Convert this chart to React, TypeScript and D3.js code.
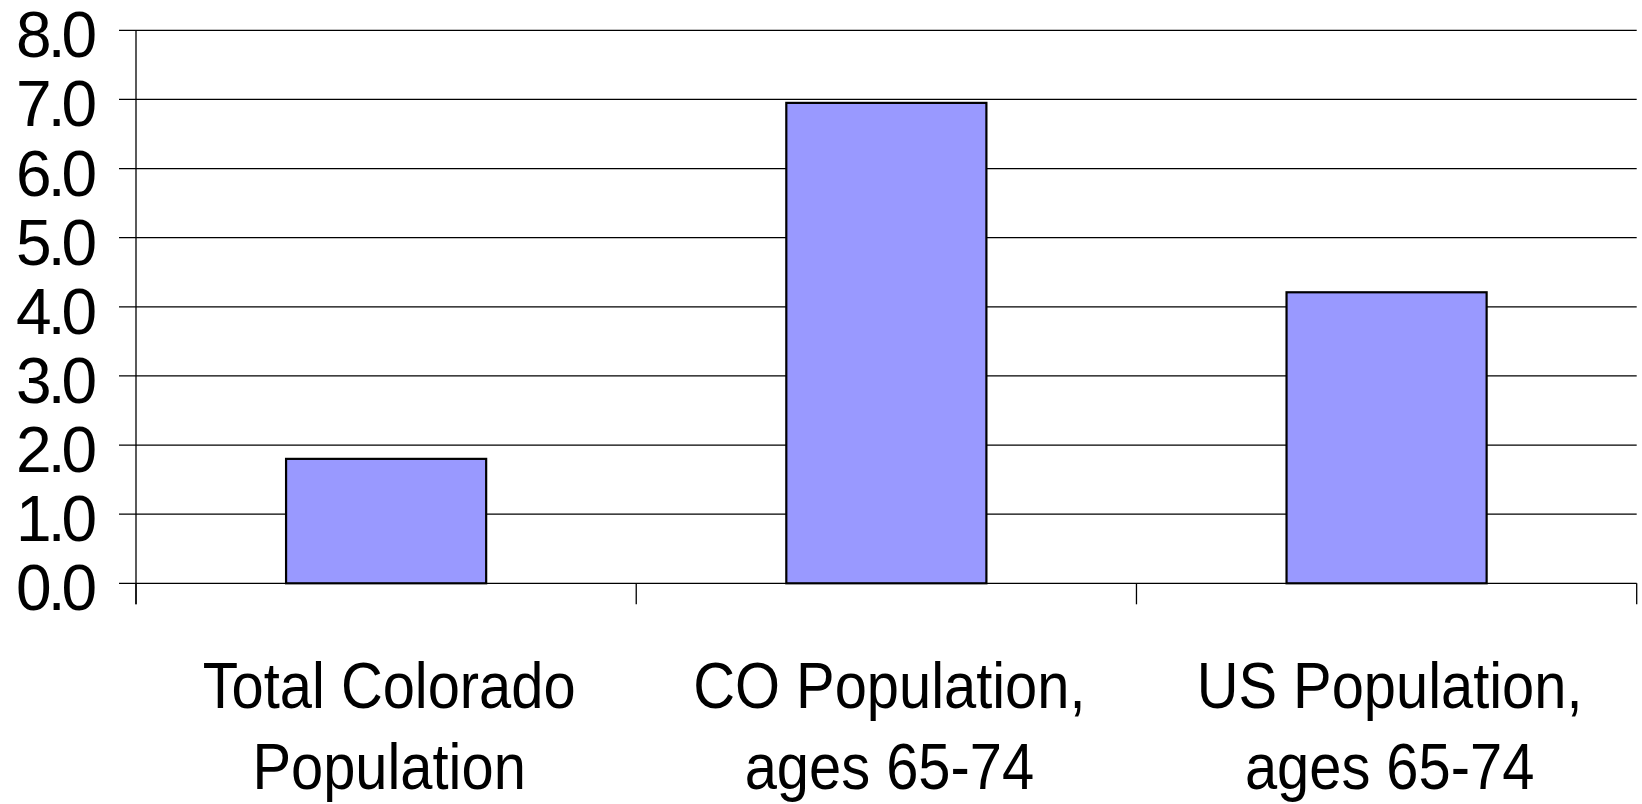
import React from "react";
import * as d3 from "d3";

const categories: string[][] = [
  ["Total Colorado", "Population"],
  ["CO Population,", "ages 65-74"],
  ["US Population,", "ages 65-74"],
];
const values: number[] = [1.8, 6.95, 4.21];
const yTicks: number[] = [0, 1, 2, 3, 4, 5, 6, 7, 8];

export default function App() {
  const W = 1642;
  const H = 804;
  const left = 136;
  const right = 1636.7;
  const top = 30.3;
  const bottom = 583.3;

  const keys = categories.map((c) => c.join(" "));
  const x = d3
    .scaleBand<string>()
    .domain(keys)
    .range([left, right])
    .paddingInner(0.6)
    .paddingOuter(0.3);
  const y = d3.scaleLinear().domain([0, 8]).range([bottom, top]);
  const boundary = d3.scaleLinear().domain([0, keys.length]).range([left, right]);

  const font = "'Liberation Sans', Arial, sans-serif";

  return (
    <div style={{ position: "absolute", left: 0, top: 0 }}>
      <svg width={W} height={H} style={{ display: "block", background: "#fff" }}>
        {yTicks.map((t) => (
          <line
            key={"g" + t}
            x1={left - 17}
            x2={right}
            y1={y(t)}
            y2={y(t)}
            stroke="#000"
            strokeWidth={1.3}
          />
        ))}
        <line x1={left} x2={left} y1={top} y2={bottom + 21} stroke="#000" strokeWidth={1.3} />
        {d3.range(keys.length + 1).map((i) => (
          <line
            key={"b" + i}
            x1={boundary(i)}
            x2={boundary(i)}
            y1={bottom}
            y2={bottom + 21}
            stroke="#000"
            strokeWidth={1.3}
          />
        ))}
        {keys.map((k, i) => (
          <rect
            key={k}
            x={x(k)!}
            y={y(values[i])}
            width={x.bandwidth()}
            height={y(0) - y(values[i])}
            fill="#9999FF"
            stroke="#000"
            strokeWidth={2.2}
          />
        ))}
        {yTicks.map((t) => (
          <text
            key={"t" + t}
            x={93}
            y={y(t) + 27}
            textAnchor="end"
            fontFamily={font}
            fontSize={64}
            letterSpacing={-4}
            fill="#000"
          >
            {t.toFixed(1)}
          </text>
        ))}
        {keys.map((k, i) => {
          const cx = x(k)! + x.bandwidth() / 2 + 3;
          return categories[i].map((line, j) => (
            <text
              key={k + j}
              transform={`translate(${cx},${708 + j * 81}) scale(0.89,1)`}
              textAnchor="middle"
              fontFamily={font}
              fontSize={65}
              fill="#000"
            >
              {line}
            </text>
          ));
        })}
      </svg>
    </div>
  );
}
